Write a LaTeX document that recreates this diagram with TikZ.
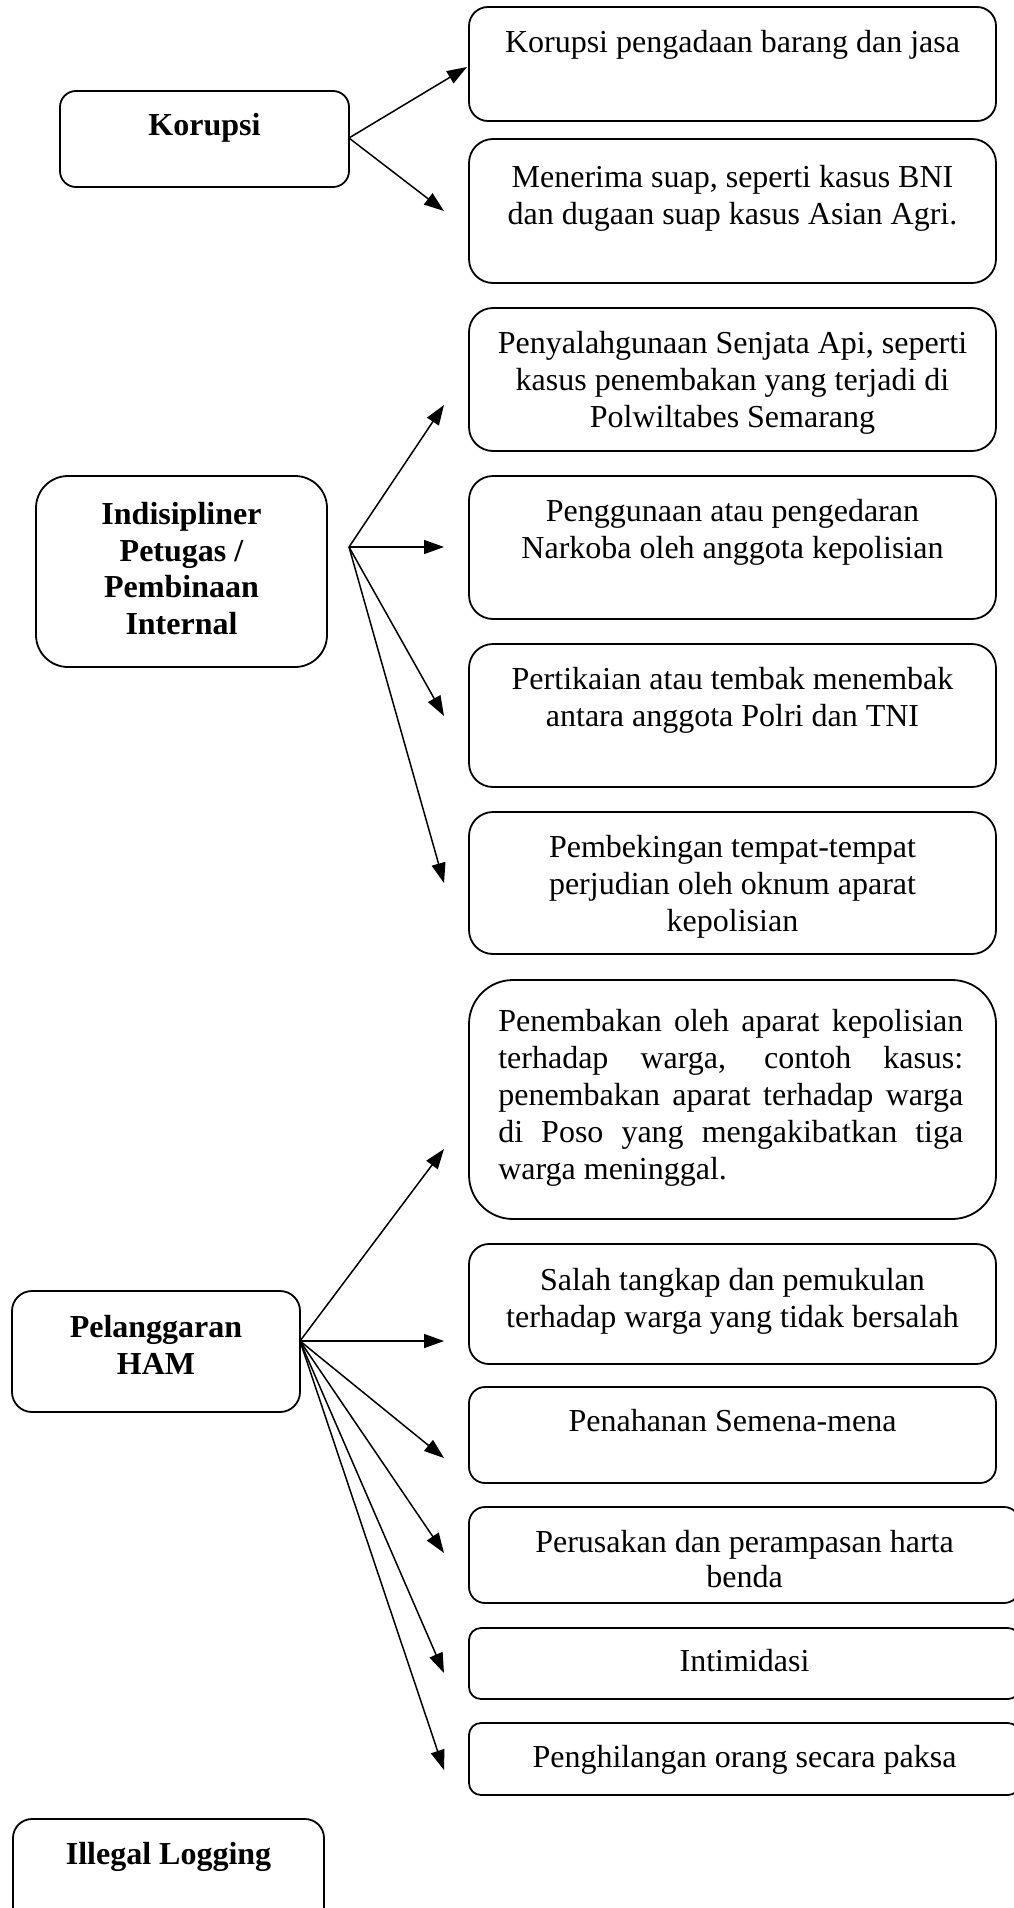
\documentclass[tikz,border=0pt]{standalone}
\usepackage{fontspec}
\setmainfont{Liberation Serif}
\usetikzlibrary{arrows.meta,calc}
\begin{document}
\begin{tikzpicture}[x=1pt,y=-1pt,
  box/.style={draw, line width=1.8pt, inner sep=0pt, rectangle},
  txt/.style={anchor=north, inner sep=0pt, align=center, font=\fontsize{32}{37}\selectfont},
  btxt/.style={anchor=north, inner sep=0pt, align=center, font=\fontsize{32}{36.5}\selectfont\bfseries},
  arr/.style={line width=1.5pt, -{Triangle[length=20pt,width=14pt]}}
]
\useasboundingbox (0,0) rectangle (1013,1908);

% left boxes
\node[box, rounded corners=16pt, minimum width=289pt, minimum height=96pt] (kor) at (204.5,139) {};
\node[box, rounded corners=32pt, minimum width=291pt, minimum height=191pt] (ind) at (181.5,571.5) {};
\node[box, rounded corners=20pt, minimum width=288pt, minimum height=121pt] (ham) at (156,1351.5) {};
\node[box, rounded corners=19pt, minimum width=311pt, minimum height=115pt] (ill) at (168.5,1876.5) {};

% right boxes
\node[box, rounded corners=19pt, minimum width=527pt, minimum height=114pt] (a1) at (732.5,64) {};
\node[box, rounded corners=24pt, minimum width=527pt, minimum height=144pt] (a2) at (732.5,211) {};
\node[box, rounded corners=24pt, minimum width=527pt, minimum height=143pt] (b1) at (732.5,379.5) {};
\node[box, rounded corners=24pt, minimum width=527pt, minimum height=143pt] (b2) at (732.5,547.5) {};
\node[box, rounded corners=24pt, minimum width=527pt, minimum height=143pt] (b3) at (732.5,715.5) {};
\node[box, rounded corners=24pt, minimum width=527pt, minimum height=142pt] (b4) at (732.5,883) {};
\node[box, rounded corners=44pt, minimum width=527pt, minimum height=239pt] (c1) at (732.5,1099.5) {};
\node[box, rounded corners=20pt, minimum width=527pt, minimum height=120pt] (c2) at (732.5,1304) {};
\node[box, rounded corners=16pt, minimum width=527pt, minimum height=96pt] (c3) at (732.5,1435) {};
\node[box, rounded corners=16pt, minimum width=551pt, minimum height=96pt] (c4) at (744.5,1555) {};
\node[box, rounded corners=12pt, minimum width=551pt, minimum height=71pt] (c5) at (744.5,1663.5) {};
\node[box, rounded corners=12pt, minimum width=551pt, minimum height=72pt] (c6) at (744.5,1759) {};

% texts
\node[btxt] (korT) at ($(kor.north)+(0,19.7)$) {\strut Korupsi};
\node[btxt] (indT) at ($(ind.north)+(0,23.7)$) {\strut Indisipliner\\Petugas /\\Pembinaan\\Internal};
\node[btxt] (hamT) at ($(ham.north)+(0,21.7)$) {\strut Pelanggaran\\HAM};
\node[btxt] (illT) at ($(ill.north)+(0,20.7)$) {\strut Illegal Logging};

\node[txt] (a1T) at ($(a1.north)+(0,20.7)$) {\strut Korupsi pengadaan barang dan jasa};
\node[txt] (a2T) at ($(a2.north)+(0,23.7)$) {\strut Menerima suap, seperti kasus BNI\\dan dugaan suap kasus Asian Agri.};
\node[txt] (b1T) at ($(b1.north)+(0,20.7)$) {\strut Penyalahgunaan Senjata Api, seperti\\kasus penembakan yang terjadi di\\Polwiltabes Semarang};
\node[txt] (b2T) at ($(b2.north)+(0,20.7)$) {\strut Penggunaan atau pengedaran\\Narkoba oleh anggota kepolisian};
\node[txt] (b3T) at ($(b3.north)+(0,20.7)$) {\strut Pertikaian atau tembak menembak\\antara anggota Polri dan TNI};
\node[txt] (b4T) at ($(b4.north)+(0,20.7)$) {\strut Pembekingan tempat-tempat\\perjudian oleh oknum aparat\\kepolisian};
\node[txt, anchor=north west, align=left] (c1T) at ($(c1.north west)+(30,26.7)$) {\strut\makebox[465pt][s]{Penembakan oleh aparat kepolisian}\\\makebox[465pt][s]{terhadap warga, contoh kasus:}\\\makebox[465pt][s]{penembakan aparat terhadap warga}\\\makebox[465pt][s]{di Poso yang mengakibatkan tiga}\\warga meninggal.};
\node[txt] (c2T) at ($(c2.north)+(0,21.7)$) {\strut Salah tangkap dan pemukulan\\terhadap warga yang tidak bersalah};
\node[txt] (c3T) at ($(c3.north)+(0,19.7)$) {\strut Penahanan Semena-mena};
\node[txt, font=\fontsize{32}{35}\selectfont] (c4T) at ($(c4.north)+(0,21.7)$) {\strut Perusakan dan perampasan harta\\benda};
\node[txt] (c5T) at ($(c5.north)+(0,18.7)$) {\strut Intimidasi};
\node[txt] (c6T) at ($(c6.north)+(0,19.7)$) {\strut Penghilangan orang secara paksa};

% connector origins and free ends
\coordinate (korO) at (349,138);
\coordinate (indO) at (349,547);
\coordinate (hamO) at (300,1341);
\coordinate (ta1) at (467,67);
\coordinate (ta2) at (444,211);
\coordinate (tb1) at (444,405);
\coordinate (tb2) at (444,547);
\coordinate (tb3) at (444,716);
\coordinate (tb4) at (444,883);
\coordinate (tc1) at (444,1149);
\coordinate (tc2) at (444,1341);
\coordinate (tc3) at (444,1458);
\coordinate (tc4) at (444,1553);
\coordinate (tc5) at (444,1673);
\coordinate (tc6) at (444,1770);

\draw[arr] (korO) -- (ta1);
\draw[arr] (korO) -- (ta2);
\draw[arr] (indO) -- (tb1);
\draw[arr] (indO) -- (tb2);
\draw[arr] (indO) -- (tb3);
\draw[arr] (indO) -- (tb4);
\draw[arr] (hamO) -- (tc1);
\draw[arr] (hamO) -- (tc2);
\draw[arr] (hamO) -- (tc3);
\draw[arr] (hamO) -- (tc4);
\draw[arr] (hamO) -- (tc5);
\draw[arr] (hamO) -- (tc6);
\end{tikzpicture}
\end{document}
